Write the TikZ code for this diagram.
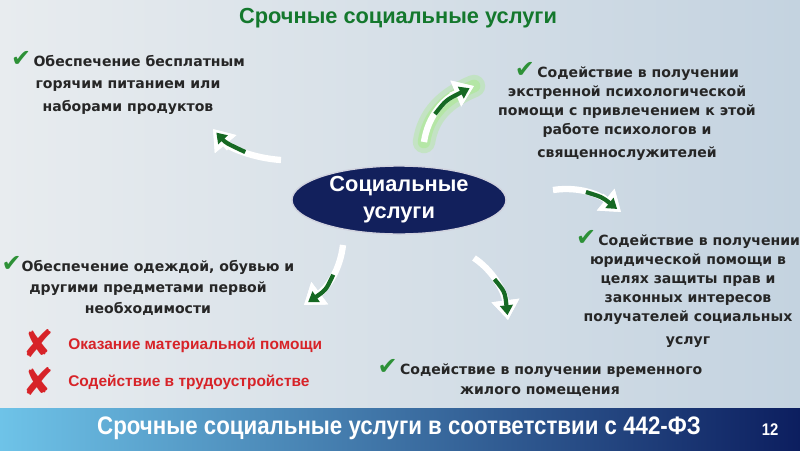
\documentclass[tikz,border=0pt]{standalone}
\usepackage{fontspec}
\setmainfont{DejaVu Sans}
\newfontfamily\arialfont{Liberation Sans}
\newfontfamily\narrowfont[FakeStretch=0.88]{Liberation Sans}
\newfontfamily\symfont{DejaVu Sans}
\usetikzlibrary{shapes.geometric,arrows.meta,positioning,calc}
\definecolor{titlegreen}{RGB}{20,120,45}
\definecolor{arrgreen}{RGB}{22,105,35}
\definecolor{chkgreen}{RGB}{45,145,55}
\definecolor{navy}{RGB}{18,32,92}
\definecolor{crossred}{RGB}{215,35,40}
\definecolor{bgleft}{RGB}{232,236,239}
\definecolor{bgright}{RGB}{196,211,224}
\definecolor{banlight}{RGB}{110,195,232}
\definecolor{banmid}{RGB}{35,90,170}
\definecolor{bandark}{RGB}{12,30,95}
\newcommand{\chk}{{\symfont\color{chkgreen}\fontsize{17}{13}\selectfont ✔}}
\newcommand{\crs}{{\symfont\color{crossred}\fontsize{27}{27}\selectfont ✘}}

\begin{document}
\begin{tikzpicture}[x=0.025cm,y=-0.025cm,
    item/.style={align=center,inner sep=0pt,text=black!85,
      font=\bfseries\fontsize{10}{14}\selectfont},
    nogo/.style={anchor=west,inner sep=0pt,text=crossred,
      font=\arialfont\bfseries\fontsize{11}{14}\selectfont},
    wtail/.style={draw=white,line width=4.5pt,-{Triangle[length=14pt,width=19pt]}},
    whead/.style={draw=white,line width=4.5pt,-{Triangle[length=14pt,width=19pt]}},
    gtail/.style={draw=arrgreen,line width=3pt,shorten >=3.5pt,-{Triangle[length=7pt,width=9pt]}},
    glow/.style={draw=green!60!yellow,line width=16pt,opacity=0.15,line cap=round}]
  \useasboundingbox (0,0) rectangle (800,450);
  \shade[left color=bgleft,right color=bgright] (0,0) rectangle (800,408);
  \shade[left color=banlight,middle color=banmid,right color=bandark] (0,408) rectangle (800,450);

  % title and centre
  \node[text=titlegreen,font=\arialfont\bfseries\fontsize{15.5}{18}\selectfont] (title) at (398,18) {Срочные социальные услуги};
  \node[ellipse,fill=navy,draw=white!80!navy,line width=1pt,minimum width=5.35cm,minimum height=1.7cm,
    inner sep=0pt,align=center,text=white,font=\arialfont\bfseries\fontsize{15.5}{19}\selectfont]
    (soc) at (399,200) {Социальные\\услуги};

  % services
  \node[item,anchor=north,font=\bfseries\fontsize{10}{16}\selectfont] (food) at (128,51)
    {\chk\,Обеспечение бесплатным\\горячим питанием или\\наборами продуктов};
  \node[item,anchor=north,font=\bfseries\fontsize{10}{13.5}\selectfont] (psych) at (627,62)
    {\chk\,Содействие в получении\\экстренной психологической\\помощи с привлечением к этой\\работе психологов и\\[3pt]священнослужителей};
  \node[item,anchor=north,font=\bfseries\fontsize{10}{13.5}\selectfont] (legal) at (688,230)
    {\chk\,Содействие в получении\\юридической помощи в\\целях защиты прав и\\законных интересов\\получателей социальных\\[3pt]услуг};
  \node[item,anchor=north] (housing) at (540,359)
    {\chk\,Содействие в получении временного\\жилого помещения};
  \node[item,anchor=north,font=\bfseries\fontsize{10}{15}\selectfont] (clothes) at (148,256)
    {\chk Обеспечение одеждой, обувью и\\другими предметами первой\\необходимости};

  % not urgent
  \node[inner sep=0pt] (crs1) at (38,343) {\crs};
  \node[inner sep=0pt] (crs2) at (38,381) {\crs};
  \node[nogo] (money) at (68,345) {Оказание материальной помощи};
  \node[nogo] (job) at (68,382) {Содействие в трудоустройстве};

  % banner
  \node[text=white,font=\narrowfont\bfseries\fontsize{18}{20}\selectfont] (law) at (399,428)
    {Срочные социальные услуги в соответствии с 442-ФЗ};
  \node[text=white,font=\narrowfont\bfseries\fontsize{12}{14}\selectfont] (page) at (770,430) {12};

  % arrows
  \coordinate (a1s) at (281,160); \coordinate (a1e) at (213,129);
  \coordinate (a2s) at (424,142); \coordinate (a2e) at (474,86);
  \coordinate (a3s) at (553,190); \coordinate (a3e) at (621,212);
  \coordinate (a4s) at (474,258); \coordinate (a4e) at (508,320);
  \coordinate (a5s) at (343,245); \coordinate (a5e) at (304,305);
  \path (a1s) .. controls (252,158) and (228,147) .. coordinate[pos=0.45] (a1m) (a1e);
  \path (a2s) .. controls (428,115) and (445,98) .. coordinate[pos=0.4] (a2m) (a2e);
  \path (a3s) .. controls (580,186) and (600,195) .. coordinate[pos=0.45] (a3m) (a3e);
  \path (a4s) .. controls (492,270) and (504,290) .. coordinate[pos=0.45] (a4m) (a4e);
  \path (a5s) .. controls (340,270) and (328,287) .. coordinate[pos=0.45] (a5m) (a5e);

  \draw[glow] (a2s) .. controls (428,115) and (445,98) .. (a2e);
  \draw[glow,line width=9pt] (a2s) .. controls (428,115) and (445,98) .. (a2e);

  \draw[wtail] (a1s) .. controls (252,158) and (228,147) .. (a1e);
  \draw[whead] ($(a1e)!18pt!(228,147)$) -- (a1e);
  \draw[gtail] (a1m) .. controls (226,143) .. (a1e);
  \draw[wtail] (a2s) .. controls (428,115) and (445,98) .. (a2e);
  \draw[whead] ($(a2e)!18pt!(445,98)$) -- (a2e);
  \draw[gtail] (a2m) .. controls (446,100) .. (a2e);
  \draw[wtail] (a3s) .. controls (580,186) and (600,195) .. (a3e);
  \draw[whead] ($(a3e)!18pt!(600,195)$) -- (a3e);
  \draw[gtail] (a3m) .. controls (602,197) .. (a3e);
  \draw[wtail] (a4s) .. controls (492,270) and (504,290) .. (a4e);
  \draw[whead] ($(a4e)!18pt!(504,290)$) -- (a4e);
  \draw[gtail] (a4m) .. controls (505,292) .. (a4e);
  \draw[wtail] (a5s) .. controls (340,270) and (328,287) .. (a5e);
  \draw[whead] ($(a5e)!18pt!(328,287)$) -- (a5e);
  \draw[gtail] (a5m) .. controls (326,290) .. (a5e);
\end{tikzpicture}
\end{document}
